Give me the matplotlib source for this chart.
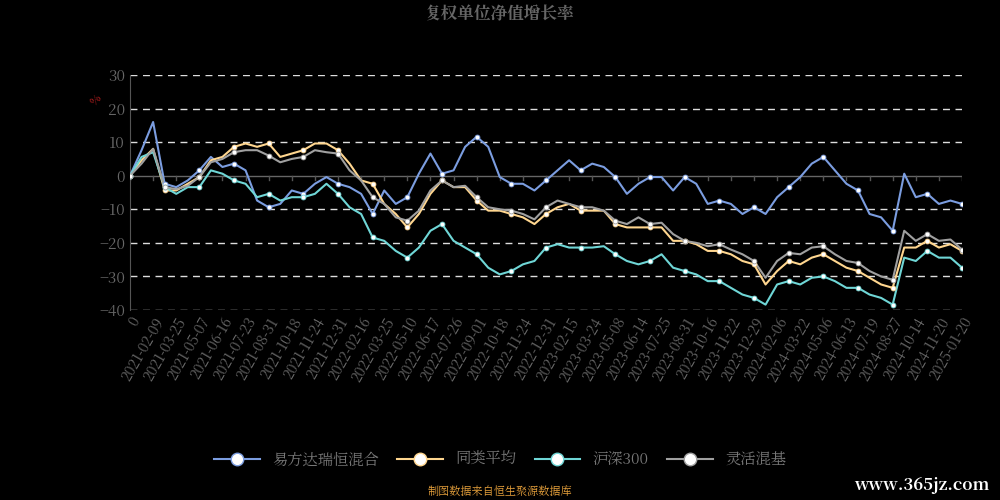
import numpy as np
import matplotlib.pyplot as plt
from matplotlib import font_manager
from matplotlib.lines import Line2D

# pick whichever CJK font is registered
cjk = [f.name for f in font_manager.fontManager.ttflist if "CJK" in f.name]
pref = [n for n in cjk if n.endswith("SC")] or cjk
plt.rcParams['font.family'] = 'sans-serif'
plt.rcParams['font.sans-serif'] = (pref[:1] if pref else []) + ['DejaVu Sans']

# x tick labels (category axis)
tick_labels = ["0", "2021-02-09", "2021-03-25", "2021-05-07", "2021-06-16", "2021-07-23", "2021-08-31",
               "2021-10-18", "2021-11-24", "2021-12-31", "2022-02-16", "2022-03-25", "2022-05-10",
               "2022-06-17", "2022-07-26", "2022-09-01", "2022-10-18", "2022-11-24", "2022-12-31",
               "2023-02-15", "2023-03-24", "2023-05-08", "2023-06-14", "2023-07-25", "2023-08-31",
               "2023-10-16", "2023-11-22", "2023-12-29", "2024-02-06", "2024-03-22", "2024-05-06",
               "2024-06-13", "2024-07-19", "2024-08-27", "2024-10-14", "2024-11-20", "2025-01-20"]

# values read at every half tick (73 samples)
fund = [0, 7.6, 16, -2.4, -3.4, -1.4, 1.6, 5.6, 2.6, 3.6, 1.6, -7.4, -9.4, -8.4, -4.4, -5.4, -2.4, -0.4,
        -2.4, -3.4, -5.4, -11.4, -4.4, -8.4, -6.4, 0.6, 6.6, 0.6, 1.6, 8.6, 11.6, 8.6, -0.4, -2.4, -2.4,
        -4.4, -1.4,
        1.6, 4.6, 1.6, 3.6, 2.6, -0.4, -5.4, -2.4, -0.4, -0.4, -4.4, -0.4, -2.4, -8.4, -7.4, -8.4, -11.4,
        -9.4, -11.4, -6.4, -3.4, -0.4, 3.6, 5.6, 1.6, -2.4, -4.4, -11.4, -12.4, -16.4, 0.6, -6.4, -5.4,
        -8.4, -7.4, -8.4]
peer = [0, 4.6, 8, -4.4, -4.4, -2.4, -0.4, 4.6, 5.6, 8.6, 9.6, 8.6, 9.6, 5.6, 6.6, 7.6, 9.6, 9.6,
        7.6, 3.6, -1.4, -2.4, -8.4, -11.4, -15.4, -11.4, -5.4, -1.4, -3.4, -3.4, -7.4, -10.4, -10.4, -11.4,
        -12.4, -14.4, -11.4,
        -9.4, -8.4, -10.4, -10.4, -10.4, -14.4, -15.4, -15.4, -15.4, -15.4, -19.4, -19.4, -20.4, -22.4,
        -22.4, -23.4, -25.4, -26.4, -32.4, -28.4, -25.4, -26.4, -24.4, -23.4, -25.4, -27.4, -28.4, -30.4,
        -32.4, -33.4, -21.4, -21.4, -19.4, -21.4, -20.4, -22.4]
hs300 = [0, 5.6, 7, -3.4, -5.4, -3.4, -3.4, 1.6, 0.6, -1.4, -2.4, -6.4, -5.4, -7.4, -6.4, -6.4, -5.4, -2.4,
         -5.4, -9.4, -11.4, -18.4, -19.4, -22.4, -24.4, -21.4, -16.4, -14.4, -19.4, -21.4, -23.4, -27.4,
         -29.4, -28.4, -26.4, -25.4, -21.4,
         -20.4, -21.4, -21.4, -21.4, -21, -23.4, -25.4, -26.4, -25.4, -23.4, -27.4, -28.4, -29.4, -31.4,
         -31.4, -33.4, -35.4, -36.4, -38.4, -32.4, -31.4, -32.4, -30.4, -30, -31.4, -33.4, -33.4, -35.4,
         -36.4, -38.4, -24.4, -25.4, -22.4, -24.4, -24.4, -27.4]
flex = [0, 3.6, 8, -3.4, -4, -3, -0.4, 4, 5, 7, 7.6, 7.6, 6, 4, 5, 5.6, 7.6, 7,
        6.6, 1.6, -1.4, -6.4, -8.4, -12.4, -13.4, -10.4, -4.4, -1.4, -3.4, -3, -6.4, -9.4, -10, -10.4,
        -11.4, -13, -9.4,
        -7.4, -8.4, -9.4, -9.4, -10.4, -13.4, -14.4, -12.4, -14.4, -14, -17.4, -19.4, -20, -21, -20.4,
        -22, -23.4, -25.4, -30.4, -25.4, -23, -23.4, -21.4, -21, -23.4, -25.4, -26, -28.4, -30, -31,
        -16.4, -19.4, -17.4, -19.4, -19, -22]

names = ["易方达瑞恒混合", "同类平均", "沪深300", "灵活混基"]
colors = ["#7b9de0", "#ffd68f", "#6fd6d6", "#a0a0a0"]
series = [fund, peer, hs300, flex]

fig = plt.figure(figsize=(10, 5), dpi=100, facecolor="black")
ax = fig.add_axes([0.13, 0.38, 0.832, 0.47], facecolor="black")

x = np.arange(len(fund))
for vals, c in zip(series, colors):
    ax.plot(x, vals, color=c, lw=1.5, zorder=3)
    ax.plot(x[::3], np.array(vals)[::3], ls="none", marker="o", ms=3.5,
            mfc="white", mec=c, mew=0.6, zorder=4)

ax.set_xlim(0, 72)
ax.set_ylim(-40, 30)
ax.set_yticks(range(-40, 31, 10))
for v in range(-40, 31, 10):
    if v != 0:
        ax.axhline(v, color="#dddddd", lw=1, ls=(0, (5, 4)), zorder=1)
ax.axhline(0, color="#666666", lw=1, zorder=2)
ax.set_xticks(np.arange(0, 73, 2))
ax.set_xticklabels(tick_labels, rotation=60, ha="right", rotation_mode="anchor")
ax.tick_params(axis="x", colors="#666666", labelsize=10, length=0)
ax.tick_params(axis="y", colors="#666666", labelsize=11, length=0)
for s in ["top", "right", "bottom"]:
    ax.spines[s].set_visible(False)
ax.spines["left"].set_color("#555555")
# small ticks on the zero line
for t in np.arange(0, 73, 2):
    ax.plot([t, t], [0, -1.2], color="#555555", lw=1, zorder=2)

fig.text(0.5, 0.97, "复权单位净值增长率", ha="center", va="center", color="#666666",
         fontsize=12, fontweight="bold")
fig.text(0.095, 0.8, "%", color="#cc2222", fontsize=8, ha="center", va="center", rotation=45)

handles = [Line2D([0], [0], color=c, lw=1.5, marker="o", ms=9, mfc="white", mec=c)
           for c in colors]
fig.legend(handles, names, loc="center", bbox_to_anchor=(0.5, 0.08), ncol=4, frameon=False,
           labelcolor="#777777", fontsize=11, handlelength=3, columnspacing=1.2)
fig.text(0.5, 0.015, "制图数据来自恒生聚源数据库", ha="center", va="center", color="#e8a23c", fontsize=8)
fig.text(0.99, 0.03, "www.365jz.com", ha="right", va="center", color="white", fontsize=12,
         fontweight="bold")

fig.savefig("out.png", dpi=100, facecolor="black")
